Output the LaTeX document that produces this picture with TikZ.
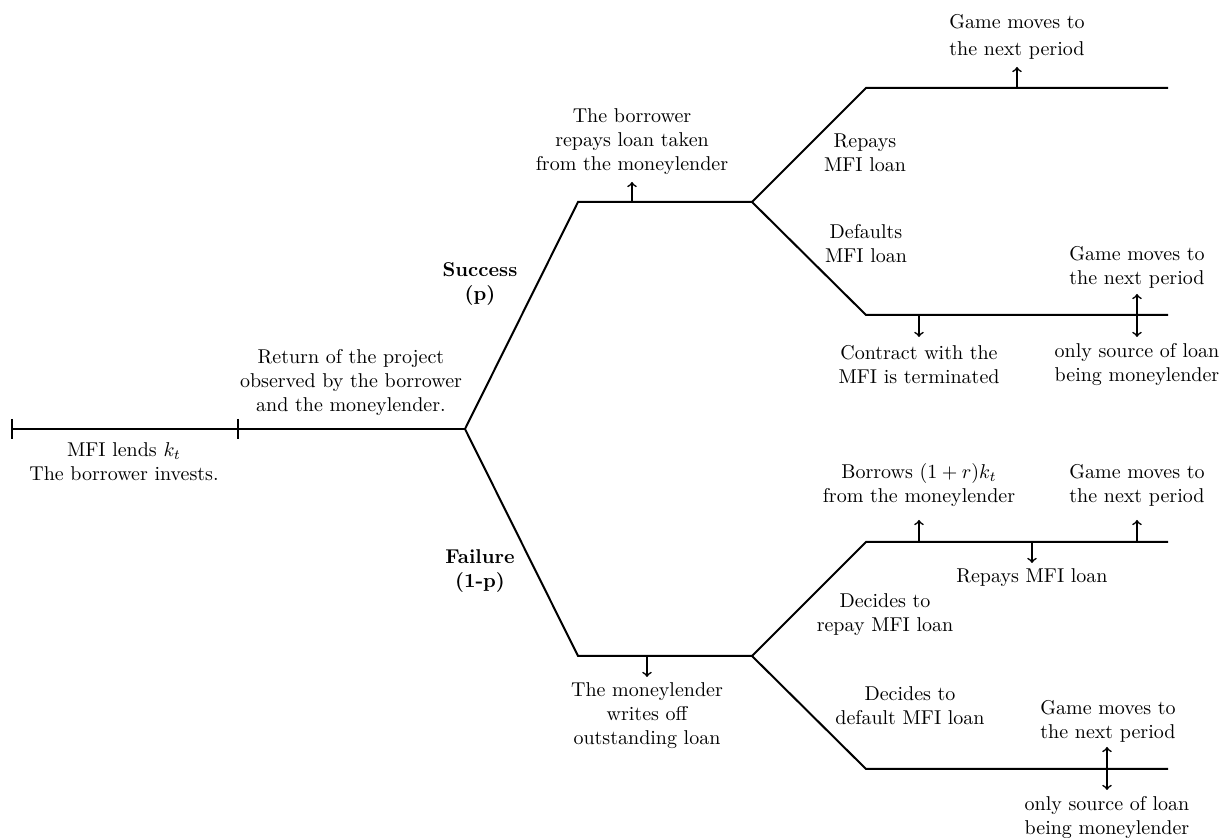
\documentclass[tikz,border=0pt]{standalone}
\usetikzlibrary{arrows}
\begin{document}
\begin{tikzpicture}[x=0.5pt,y=-0.5pt,
  tree/.style={line width=1pt,line join=miter},
  evt/.style={thick,->},
  evtboth/.style={thick,<->},
  lbl/.style={align=center,inner sep=0pt},
  blbl/.style={align=center,inner sep=0pt,font=\bfseries}]
\useasboundingbox (0,0) rectangle (1223,838);
% tree points
\coordinate (s0) at (12,429);
\coordinate (s1) at (238,429);
\coordinate (r) at (465,429);
\coordinate (u1) at (578,202);
\coordinate (u2) at (752,202);
\coordinate (d1) at (578,656);
\coordinate (d2) at (752,656);
\coordinate (uu1) at (866,88);
\coordinate (uu2) at (1168,88);
\coordinate (ud1) at (866,315);
\coordinate (ud2) at (1168,315);
\coordinate (du1) at (866,542);
\coordinate (du2) at (1168,542);
\coordinate (dd1) at (866,769);
\coordinate (dd2) at (1168,769);
% ticks
\coordinate (t0a) at (12,419); \coordinate (t0b) at (12,439);
\coordinate (t1a) at (238,419); \coordinate (t1b) at (238,439);
\draw[tree] (s0) -- (r);
\draw[tree] (t0a) -- (t0b);
\draw[tree] (t1a) -- (t1b);
\draw[tree] (r) -- (u1) -- (u2);
\draw[tree] (r) -- (d1) -- (d2);
\draw[tree] (u2) -- (uu1) -- (uu2);
\draw[tree] (u2) -- (ud1) -- (ud2);
\draw[tree] (d2) -- (du1) -- (du2);
\draw[tree] (d2) -- (dd1) -- (dd2);
% arrow coordinates
\coordinate (a1s) at (632,202); \coordinate (a1e) at (632,182);
\coordinate (a2s) at (1017,88); \coordinate (a2e) at (1017,67);
\coordinate (a3s) at (919,315); \coordinate (a3e) at (919,337);
\coordinate (a4s) at (1137,294); \coordinate (a4e) at (1137,337);
\coordinate (a5s) at (919,542); \coordinate (a5e) at (919,520);
\coordinate (a6s) at (1032,542); \coordinate (a6e) at (1032,563);
\coordinate (a7s) at (1137,542); \coordinate (a7e) at (1137,520);
\coordinate (a8s) at (647,656); \coordinate (a8e) at (647,677);
\coordinate (a9s) at (1107,747); \coordinate (a9e) at (1107,790);
\draw[evt] (a1s) -- (a1e);
\draw[evt] (a2s) -- (a2e);
\draw[evt] (a3s) -- (a3e);
\draw[evtboth] (a4s) -- (a4e);
\draw[evt] (a5s) -- (a5e);
\draw[evt] (a6s) -- (a6e);
\draw[evt] (a7s) -- (a7e);
\draw[evt] (a8s) -- (a8e);
\draw[evtboth] (a9s) -- (a9e);
% labels
\node[lbl] (ret) at (351,383) {Return of the project\\observed by the borrower\\and the moneylender.};
\node[lbl] (mfi) at (124,462) {MFI lends $k_t$\\The borrower invests.};
\node[blbl] (succ) at (480,284) {Success\\(p)};
\node[blbl] (fail) at (480,571) {Failure\\(1-p)};
\node[lbl] (brep) at (632,142) {The borrower\\repays loan taken\\from the moneylender};
\node[lbl] (gtop) at (1017,37) {Game moves to\\[1.5pt]the next period};
\node[lbl] (rep) at (865,153) {Repays\\MFI loan};
\node[lbl] (def) at (866,244) {Defaults\\MFI loan};
\node[lbl] (con) at (919,365) {Contract with the\\MFI is terminated};
\node[lbl] (gmid) at (1137,267) {Game moves to\\the next period};
\node[lbl] (omid) at (1137,365) {only source of loan\\being moneylender};
\node[lbl] (bor) at (919,485) {Borrows $(1+r)k_t$\\from the moneylender};
\node[lbl] (glr) at (1137,485) {Game moves to\\the next period};
\node[lbl] (rmfi) at (1032,578) {Repays MFI loan};
\node[lbl] (drep) at (885,615) {Decides to\\repay MFI loan};
\node[lbl] (mwo) at (647,716) {The moneylender\\writes off\\outstanding loan};
\node[lbl] (ddef) at (910,706) {Decides to\\default MFI loan};
\node[lbl] (gbot) at (1108,721) {Game moves to\\the next period};
\node[lbl] (obot) at (1107,818) {only source of loan\\being moneylender};
\end{tikzpicture}
\end{document}
